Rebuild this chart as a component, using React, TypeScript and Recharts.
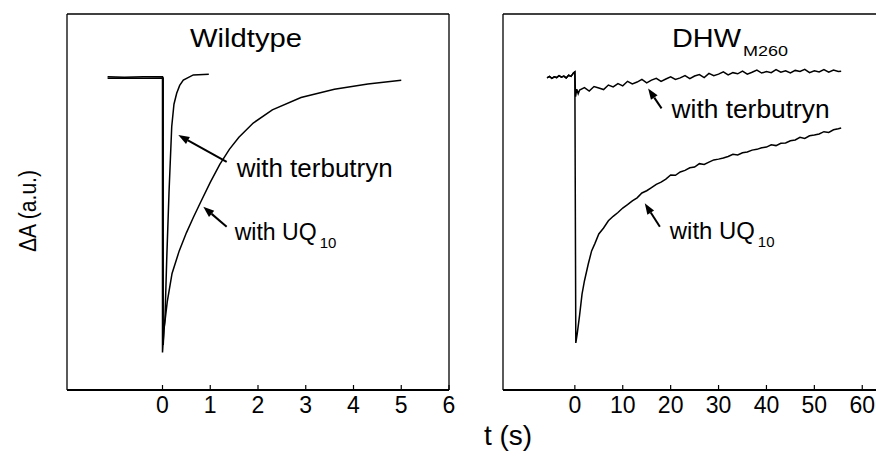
import React from 'react';
import { LineChart, Line, XAxis, YAxis, ReferenceLine } from 'recharts';

type Pt = { t: number; v: number };
const pts = (rows: number[][]): Pt[] => rows.map(([t, v]) => ({ t, v }));

// Wildtype traces (time in s, absorbance change in a.u.)
const wtTerbutryn = pts([
  [-1.15, 0.833], [-0.8, 0.832], [-0.4, 0.833], [0, 0.833],
  [0, 0.1], [0.03, 0.16], [0.052, 0.19], [0.088, 0.346], [0.136, 0.524],
  [0.193, 0.7], [0.24, 0.76], [0.297, 0.789], [0.36, 0.81], [0.436, 0.824],
  [0.645, 0.838], [0.97, 0.84],
]);
const wtUQ10 = pts([
  [-1.15, 0.829], [-0.8, 0.83], [-0.4, 0.829], [0.015, 0.83],
  [0.015, 0.12], [0.03, 0.16], [0.1, 0.235], [0.2, 0.31], [0.35, 0.37],
  [0.5, 0.418], [0.65, 0.46], [0.8, 0.5], [1.0, 0.552], [1.2, 0.6],
  [1.4, 0.64], [1.6, 0.672], [1.9, 0.71], [2.3, 0.745], [2.9, 0.778],
  [3.6, 0.8], [4.3, 0.814], [5.0, 0.824],
]);

// DHW M260 traces
const preBaseline = [
  [-5.8, 0.83], [-5.3, 0.834], [-4.8, 0.829], [-4.3, 0.833], [-3.8, 0.831],
  [-3.3, 0.836], [-2.8, 0.832], [-2.3, 0.835], [-1.8, 0.83], [-1.3, 0.837],
  [-0.8, 0.834], [-0.3, 0.843], [0, 0.846],
];
const dhwTerbutrynValues = [
  0.798, 0.804, 0.795, 0.807, 0.803, 0.799, 0.811, 0.806, 0.815, 0.809,
  0.821, 0.814, 0.819, 0.826, 0.817, 0.824, 0.829, 0.821, 0.827, 0.833,
  0.826, 0.83, 0.836, 0.828, 0.835, 0.839, 0.831, 0.842, 0.836, 0.84,
  0.846, 0.838, 0.844, 0.841, 0.848, 0.84, 0.845, 0.851, 0.843, 0.847,
  0.844, 0.852, 0.845, 0.849, 0.843, 0.85, 0.847, 0.853, 0.844, 0.849,
  0.846, 0.852, 0.845, 0.851, 0.847,
];
const dhwTerbutryn = pts([
  ...preBaseline,
  [0.15, 0.78], [0.4, 0.8], [0.7, 0.788],
  ...dhwTerbutrynValues.map((v, i) => [i + 1, v]),
  [55.6, 0.848],
]);
const dhwUQ10 = pts([
  ...preBaseline,
  [0.2, 0.125], [0.5, 0.15], [1, 0.2], [1.5, 0.255], [2, 0.29], [2.8, 0.335],
  [3.5, 0.37], [4.2, 0.39], [5, 0.415], [6, 0.431], [7, 0.45], [8, 0.462],
  [9, 0.472], [10, 0.484], [11, 0.493], [12, 0.503], [13, 0.511], [14, 0.524],
  [15, 0.53], [16, 0.538], [17, 0.547], [18, 0.553], [19, 0.561], [20, 0.572],
  [21, 0.571], [22, 0.58], [23, 0.584], [24, 0.591], [25, 0.593], [26, 0.602],
  [27, 0.6], [28, 0.606], [29, 0.612], [30, 0.614], [31, 0.617], [32, 0.621],
  [33, 0.627], [34, 0.625], [35, 0.631], [36, 0.633], [37, 0.638], [38, 0.64],
  [39, 0.644], [40, 0.646], [41, 0.652], [42, 0.65], [43, 0.656], [44, 0.657],
  [45, 0.663], [46, 0.665], [47, 0.672], [48, 0.669], [49, 0.676], [50, 0.678],
  [51, 0.681], [52, 0.687], [53, 0.685], [54, 0.692], [55, 0.695], [55.6, 0.697],
]);

const wtTicks = [0, 1, 2, 3, 4, 5, 6];
const dhwTicks = [0, 10, 20, 30, 40, 50, 60];

const FONT = '"Liberation Sans", Arial, Helvetica, sans-serif';

const InwardTick = (props: any) => {
  const { x, y, payload } = props;
  return (
    <g>
      <line x1={x} y1={y - 5} x2={x} y2={y} stroke="#000" strokeWidth={1.2} />
      <text x={x} y={y + 23} textAnchor="middle" fontSize={23} fontFamily={FONT} fill="#000">
        {payload.value}
      </text>
    </g>
  );
};

// arrow drawn tail -> head, with the caption hanging off the tail
const callout = (text: string, sub: string | null, dx: number, dy: number, size: number, len: number) => (p: any) => {
  const { x1, y1, x2, y2 } = p;
  const ang = Math.atan2(y2 - y1, x2 - x1);
  const hl = 11;
  const hw = 4;
  const bx = x2 - hl * Math.cos(ang);
  const by = y2 - hl * Math.sin(ang);
  const nx = -Math.sin(ang) * hw;
  const ny = Math.cos(ang) * hw;
  return (
    <g>
      <line x1={x1} y1={y1} x2={bx} y2={by} stroke="#000" strokeWidth={2} />
      <polygon points={`${x2},${y2} ${bx + nx},${by + ny} ${bx - nx},${by - ny}`} fill="#000" />
      <text x={x1 + dx} y={y1 + dy} fontSize={size} fontFamily={FONT} fill="#000"
        textLength={len} lengthAdjust="spacingAndGlyphs">
        {text}
      </text>
      {sub && (
        <text x={x1 + dx + len + 3} y={y1 + dy + 8} fontSize={15} fontFamily={FONT} fill="#000">
          {sub}
        </text>
      )}
    </g>
  );
};

const lineProps = {
  type: 'linear' as const,
  dataKey: 'v',
  stroke: '#000',
  strokeWidth: 1.5,
  dot: false,
  activeDot: false,
  isAnimationActive: false,
};

export default function App() {
  return (
    <div style={{ position: 'fixed', left: 0, top: 0, width: 876, height: 459, overflow: 'hidden', background: '#fff' }}>
      <div style={{ position: 'absolute', left: 0, top: 0 }}>
        <LineChart width={470} height={459} margin={{ top: 14, left: 67, right: 21, bottom: 39 }}>
          <XAxis type="number" dataKey="t" domain={[-2, 6]} ticks={wtTicks} interval={0}
            height={30} tickSize={0} tickMargin={0} tick={InwardTick} tickLine={false}
            axisLine={{ stroke: '#000', strokeWidth: 2 }} allowDataOverflow />
          <YAxis hide domain={[0, 1]} type="number" />
          <ReferenceLine y={1} stroke="#000" strokeWidth={1.3} />
          <ReferenceLine x={-2} stroke="#000" strokeWidth={1.3} />
          <ReferenceLine x={6} stroke="#000" strokeWidth={1.3} />
          <Line {...lineProps} data={wtTerbutryn} />
          <Line {...lineProps} data={wtUQ10} />
          <ReferenceLine segment={[{ x: 1.344, y: 0.607 }, { x: 0.331, y: 0.678 }]}
            shape={callout('with terbutryn', null, 10, 15, 26, 156)} />
          <ReferenceLine segment={[{ x: 1.344, y: 0.434 }, { x: 0.854, y: 0.4875 }]}
            shape={callout('with UQ', '10', 8, 13, 23, 82)} />
        </LineChart>
      </div>
      <div style={{ position: 'absolute', left: 440, top: 0 }}>
        <LineChart width={460} height={459} margin={{ top: 14, left: 63, right: 13.8, bottom: 39 }}>
          <XAxis type="number" dataKey="t" domain={[-15, 65]} ticks={dhwTicks} interval={0}
            height={30} tickSize={0} tickMargin={0} tick={InwardTick} tickLine={false}
            axisLine={{ stroke: '#000', strokeWidth: 2 }} allowDataOverflow />
          <YAxis hide domain={[0, 1]} type="number" />
          <ReferenceLine y={1} stroke="#000" strokeWidth={1.3} />
          <ReferenceLine x={-15} stroke="#000" strokeWidth={1.3} />
          <ReferenceLine x={65} stroke="#000" strokeWidth={1.3} />
          <Line {...lineProps} data={dhwTerbutryn} />
          <Line {...lineProps} data={dhwUQ10} />
          <ReferenceLine segment={[{ x: 18.1, y: 0.749 }, { x: 15.3, y: 0.802 }]}
            shape={callout('with terbutryn', null, 10, 10, 26, 158)} />
          <ReferenceLine segment={[{ x: 17.75, y: 0.434 }, { x: 14.6, y: 0.4965 }]}
            shape={callout('with UQ', '10', 10, 12.6, 24, 85)} />
        </LineChart>
      </div>
      <svg width={876} height={459} style={{ position: 'absolute', left: 0, top: 0, pointerEvents: 'none' }}
        fontFamily={FONT} fill="#000">
        <text x={190} y={47} fontSize={25} textLength={112} lengthAdjust="spacingAndGlyphs">Wildtype</text>
        <text x={672} y={47} fontSize={25} textLength={69} lengthAdjust="spacingAndGlyphs">DHW</text>
        <text x={743} y={56} fontSize={15} textLength={45} lengthAdjust="spacingAndGlyphs">M260</text>
        <text x={36} y={211} fontSize={23} textAnchor="middle" transform="rotate(-90 36 211)"
          textLength={82} lengthAdjust="spacingAndGlyphs">ΔA (a.u.)</text>
        <text x={508} y={445} fontSize={28} textAnchor="middle">t (s)</text>
      </svg>
    </div>
  );
}
